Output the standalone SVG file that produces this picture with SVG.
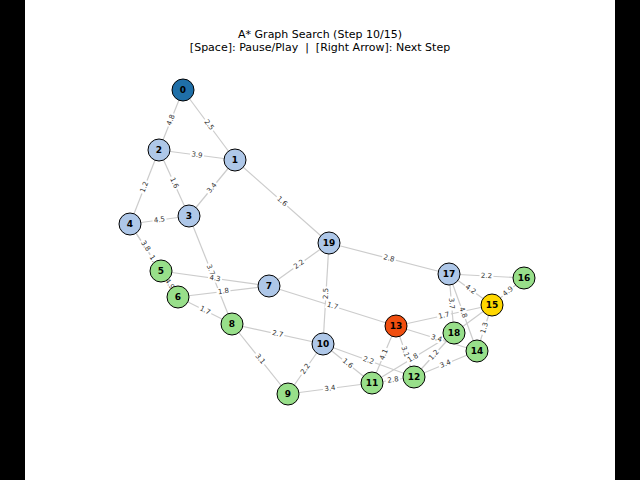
<svg xmlns="http://www.w3.org/2000/svg" width="640" height="480" viewBox="0 0 640 480">
<style>
.e line{stroke:#cccccc;stroke-width:1.2}
.l rect{fill:#fff}
.l text{font-family:"DejaVu Sans",sans-serif;font-size:7px;fill:#333;text-anchor:middle;dominant-baseline:central}
.n circle{stroke:#000;stroke-width:1}
.n text{font-family:"DejaVu Sans",sans-serif;font-size:9px;font-weight:bold;text-anchor:middle;dominant-baseline:central}
.b{fill:#aec7e8}.g{fill:#98df8a}
</style>
<rect width="640" height="480" fill="#fff"/>
<rect x="0" y="0" width="25" height="480" fill="#000"/>
<rect x="615" y="0" width="25" height="480" fill="#000"/>
<text x="320" y="38" font-family="DejaVu Sans,sans-serif" font-size="11" text-anchor="middle">A* Graph Search (Step 10/15)</text>
<text x="320" y="51" font-family="DejaVu Sans,sans-serif" font-size="11" text-anchor="middle">[Space]: Pause/Play&#160; |&#160; [Right Arrow]: Next Step</text>
<g id="connectors">
<g class="e">
<line x1="183" y1="90" x2="159" y2="150"/><line x1="183" y1="90" x2="235" y2="160"/>
<line x1="159" y1="150" x2="235" y2="160"/><line x1="159" y1="150" x2="130" y2="224"/>
<line x1="159" y1="150" x2="189" y2="216"/><line x1="235" y1="160" x2="189" y2="216"/>
<line x1="235" y1="160" x2="329" y2="243"/><line x1="130" y1="224" x2="189" y2="216"/>
<line x1="130" y1="224" x2="161" y2="271"/><line x1="130" y1="224" x2="178" y2="297"/>
<line x1="161" y1="271" x2="178" y2="297"/><line x1="189" y1="216" x2="232" y2="324"/>
<line x1="161" y1="271" x2="269" y2="286"/><line x1="178" y1="297" x2="269" y2="286"/>
<line x1="178" y1="297" x2="232" y2="324"/><line x1="269" y1="286" x2="329" y2="243"/>
<line x1="269" y1="286" x2="396" y2="326"/><line x1="329" y1="243" x2="323" y2="344"/>
<line x1="329" y1="243" x2="449" y2="274"/><line x1="232" y1="324" x2="323" y2="344"/>
<line x1="232" y1="324" x2="288" y2="394"/><line x1="323" y1="344" x2="288" y2="394"/>
<line x1="288" y1="394" x2="372" y2="383"/><line x1="323" y1="344" x2="372" y2="383"/>
<line x1="323" y1="344" x2="414" y2="377"/><line x1="396" y1="326" x2="372" y2="383"/>
<line x1="396" y1="326" x2="414" y2="377"/><line x1="396" y1="326" x2="477" y2="351"/>
<line x1="396" y1="326" x2="492" y2="305"/><line x1="372" y1="383" x2="454" y2="333"/>
<line x1="414" y1="377" x2="454" y2="333"/><line x1="454" y1="333" x2="492" y2="305"/>
<line x1="372" y1="383" x2="414" y2="377"/><line x1="414" y1="377" x2="477" y2="351"/>
<line x1="449" y1="274" x2="524" y2="278"/><line x1="449" y1="274" x2="492" y2="305"/>
<line x1="492" y1="305" x2="524" y2="278"/><line x1="449" y1="274" x2="454" y2="333"/>
<line x1="449" y1="274" x2="477" y2="351"/><line x1="492" y1="305" x2="477" y2="351"/>
</g>
<g class="l">
<g transform="translate(171,120) rotate(-68.2)"><rect x="-7" y="-4" width="14" height="8"/><text>4.8</text></g>
<g transform="translate(209,125) rotate(53.4)"><rect x="-7" y="-4" width="14" height="8"/><text>2.5</text></g>
<g transform="translate(197,155) rotate(7.5)"><rect x="-7" y="-4" width="14" height="8"/><text>3.9</text></g>
<g transform="translate(144.5,187) rotate(-68.6)"><rect x="-7" y="-4" width="14" height="8"/><text>1.2</text></g>
<g transform="translate(174,183) rotate(65.6)"><rect x="-7" y="-4" width="14" height="8"/><text>1.6</text></g>
<g transform="translate(212,188) rotate(-50.6)"><rect x="-7" y="-4" width="14" height="8"/><text>3.4</text></g>
<g transform="translate(282,201.5) rotate(41.4)"><rect x="-7" y="-4" width="14" height="8"/><text>1.6</text></g>
<g transform="translate(159.5,220) rotate(-7.7)"><rect x="-7" y="-4" width="14" height="8"/><text>4.5</text></g>
<g transform="translate(145.5,246) rotate(56.6)"><rect x="-7" y="-4" width="14" height="8"/><text>3.8</text></g>
<g transform="translate(154,260.5) rotate(56.7)"><rect x="-7" y="-4" width="14" height="8"/><text>1.4</text></g>
<g transform="translate(169.5,284) rotate(56.8)"><rect x="-7" y="-4" width="14" height="8"/><text>4.9</text></g>
<g transform="translate(210.5,270) rotate(68.3)"><rect x="-7" y="-4" width="14" height="8"/><text>3.7</text></g>
<g transform="translate(215,278.5) rotate(7.9)"><rect x="-7" y="-4" width="14" height="8"/><text>4.3</text></g>
<g transform="translate(223.5,291.5) rotate(-6.9)"><rect x="-7" y="-4" width="14" height="8"/><text>1.8</text></g>
<g transform="translate(205,310.5) rotate(26.6)"><rect x="-7" y="-4" width="14" height="8"/><text>1.7</text></g>
<g transform="translate(299,264.5) rotate(-35.6)"><rect x="-7" y="-4" width="14" height="8"/><text>2.2</text></g>
<g transform="translate(332.5,306) rotate(17.5)"><rect x="-7" y="-4" width="14" height="8"/><text>1.7</text></g>
<g transform="translate(326,293.5) rotate(-86.6)"><rect x="-7" y="-4" width="14" height="8"/><text>2.5</text></g>
<g transform="translate(389,258.5) rotate(14.5)"><rect x="-7" y="-4" width="14" height="8"/><text>2.8</text></g>
<g transform="translate(277.5,334) rotate(12.4)"><rect x="-7" y="-4" width="14" height="8"/><text>2.7</text></g>
<g transform="translate(260,359) rotate(51.3)"><rect x="-7" y="-4" width="14" height="8"/><text>3.1</text></g>
<g transform="translate(305.5,369) rotate(-55)"><rect x="-7" y="-4" width="14" height="8"/><text>2.2</text></g>
<g transform="translate(330,388.5) rotate(-7.5)"><rect x="-7" y="-4" width="14" height="8"/><text>3.4</text></g>
<g transform="translate(347.5,363.5) rotate(38.5)"><rect x="-7" y="-4" width="14" height="8"/><text>1.6</text></g>
<g transform="translate(368.5,360.5) rotate(19.9)"><rect x="-7" y="-4" width="14" height="8"/><text>2.2</text></g>
<g transform="translate(384,354.5) rotate(-67.2)"><rect x="-7" y="-4" width="14" height="8"/><text>4.1</text></g>
<g transform="translate(405,351.5) rotate(70.6)"><rect x="-7" y="-4" width="14" height="8"/><text>3.1</text></g>
<g transform="translate(436.5,338.5) rotate(17.2)"><rect x="-7" y="-4" width="14" height="8"/><text>3.4</text></g>
<g transform="translate(444,315.5) rotate(-12.3)"><rect x="-7" y="-4" width="14" height="8"/><text>1.7</text></g>
<g transform="translate(413,358) rotate(-31.4)"><rect x="-7" y="-4" width="14" height="8"/><text>1.8</text></g>
<g transform="translate(434,355) rotate(-47.7)"><rect x="-7" y="-4" width="14" height="8"/><text>1.2</text></g>
<g transform="translate(393,380) rotate(-8.1)"><rect x="-7" y="-4" width="14" height="8"/><text>2.8</text></g>
<g transform="translate(445.5,364) rotate(-22.4)"><rect x="-7" y="-4" width="14" height="8"/><text>3.4</text></g>
<g transform="translate(486.5,276) rotate(3)"><rect x="-7" y="-4" width="14" height="8"/><text>2.2</text></g>
<g transform="translate(470.5,289.5) rotate(35.8)"><rect x="-7" y="-4" width="14" height="8"/><text>4.2</text></g>
<g transform="translate(508,291.5) rotate(-40.2)"><rect x="-7" y="-4" width="14" height="8"/><text>4.9</text></g>
<g transform="translate(451.5,303.5) rotate(85.2)"><rect x="-7" y="-4" width="14" height="8"/><text>3.7</text></g>
<g transform="translate(463,312.5) rotate(70)"><rect x="-7" y="-4" width="14" height="8"/><text>4.8</text></g>
<g transform="translate(484.5,328) rotate(-72)"><rect x="-7" y="-4" width="14" height="8"/><text>1.3</text></g>
</g>
</g>
<g class="n">
<g id="n0"><circle cx="183" cy="90" r="11" fill="#1f6fa8"/><text x="183" y="90">0</text></g>
<g id="n1"><circle cx="235" cy="160" r="11" class="b"/><text x="235" y="160">1</text></g>
<g id="n2"><circle cx="159" cy="150" r="11" class="b"/><text x="159" y="150">2</text></g>
<g id="n3"><circle cx="189" cy="216" r="11" class="b"/><text x="189" y="216">3</text></g>
<g id="n4"><circle cx="130" cy="224" r="11" class="b"/><text x="130" y="224">4</text></g>
<g id="n5"><circle cx="161" cy="271" r="11" class="g"/><text x="161" y="271">5</text></g>
<g id="n6"><circle cx="178" cy="297" r="11" class="g"/><text x="178" y="297">6</text></g>
<g id="n7"><circle cx="269" cy="286" r="11" class="b"/><text x="269" y="286">7</text></g>
<g id="n8"><circle cx="232" cy="324" r="11" class="g"/><text x="232" y="324">8</text></g>
<g id="n9"><circle cx="288" cy="394" r="11" class="g"/><text x="288" y="394">9</text></g>
<g id="n10"><circle cx="323" cy="344" r="11" class="b"/><text x="323" y="344">10</text></g>
<g id="n11"><circle cx="372" cy="383" r="11" class="g"/><text x="372" y="383">11</text></g>
<g id="n12"><circle cx="414" cy="377" r="11" class="g"/><text x="414" y="377">12</text></g>
<g id="n13"><circle cx="396" cy="326" r="11" fill="#f04e0f"/><text x="396" y="326">13</text></g>
<g id="n14"><circle cx="477" cy="351" r="11" class="g"/><text x="477" y="351">14</text></g>
<g id="n15"><circle cx="492" cy="305" r="11" fill="#ffd700"/><text x="492" y="305">15</text></g>
<g id="n16"><circle cx="524" cy="278" r="11" class="g"/><text x="524" y="278">16</text></g>
<g id="n17"><circle cx="449" cy="274" r="11" class="b"/><text x="449" y="274">17</text></g>
<g id="n18"><circle cx="454" cy="333" r="11" class="g"/><text x="454" y="333">18</text></g>
<g id="n19"><circle cx="329" cy="243" r="11" class="b"/><text x="329" y="243">19</text></g>
</g>
</svg>
